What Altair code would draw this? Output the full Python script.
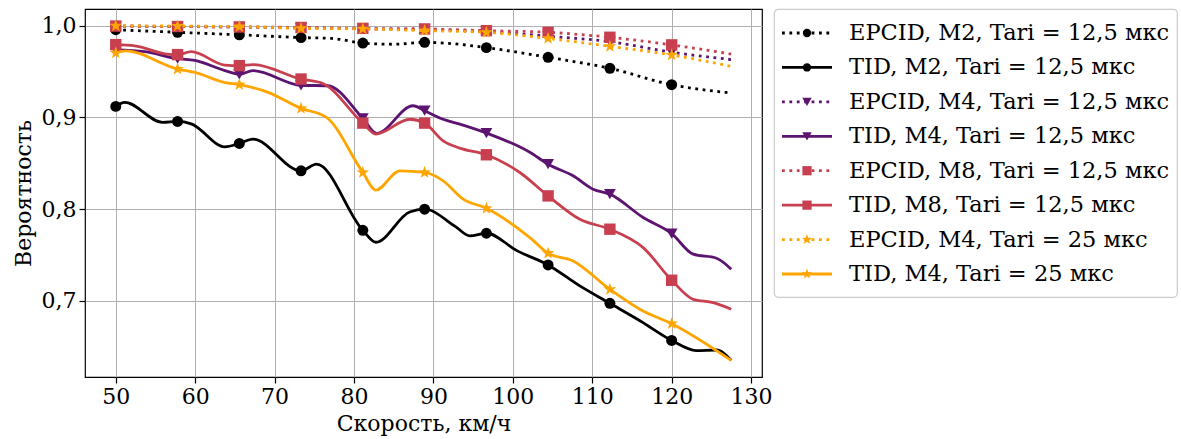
import altair as alt
import pandas as pd

FONT = "DejaVu Serif"

MARKER_X = [50.0, 57.78, 65.56, 73.33, 81.11, 88.89, 96.67, 104.44, 112.22, 120.0]

LABELS = [
    "EPCID, M2, Tari = 12,5 мкс",
    "TID, M2, Tari = 12,5 мкс",
    "EPCID, M4, Tari = 12,5 мкс",
    "TID, M4, Tari = 12,5 мкс",
    "EPCID, M8, Tari = 12,5 мкс",
    "TID, M8, Tari = 12,5 мкс",
    "EPCID, M4, Tari = 25 мкс",
    "TID, M4, Tari = 25 мкс",
]
STAR = ("M0,-1L0.235,-0.324L0.951,-0.309L0.38,0.124L0.588,0.809L0,0.4"
        "L-0.588,0.809L-0.38,0.124L-0.951,-0.309L-0.235,-0.324Z")
COLORS = ["#000000", "#000000", "#5c1470", "#5c1470", "#c8404f", "#c8404f", "#ffa500", "#ffa500"]
SHAPES = ["circle", "circle", "triangle-down", "triangle-down", "square", "square", STAR, STAR]
DOTTED = [True, False, True, False, True, False, True, False]
MSIZE = {"circle": 120, "triangle-down": 140, "square": 130, STAR: 175}
LSIZE = {"circle": 70, "triangle-down": 90, "square": 85, STAR: 120}

X_EPCID_M2 = [50.0, 57.78, 65.56, 73.33, 77.22, 81.11, 85.0, 88.89, 92.78, 96.67, 104.44, 112.22, 120.0, 127.5]
Y_EPCID_M2 = [0.9955, 0.9927, 0.990, 0.987, 0.986, 0.981, 0.9797, 0.9818, 0.980, 0.976, 0.9655, 0.9535, 0.9356, 0.9266]
X_TID_M2 = [50.0, 51.13, 55.9, 57.78, 59.5, 63.73, 65.56, 67.25, 73.33, 75.28, 81.11, 82.75, 87.0, 88.89,
            92.78, 94.58, 96.67, 100.56, 104.44, 108.33, 112.22, 116.11, 120.0, 123.1, 125.65, 127.5]
Y_TID_M2 = [0.912, 0.9163, 0.8945, 0.8956, 0.893, 0.868, 0.8716, 0.8764, 0.8418, 0.849, 0.777, 0.764, 0.797, 0.800,
            0.781, 0.771, 0.7738, 0.7546, 0.7393, 0.717, 0.6975, 0.678, 0.657, 0.646, 0.6466, 0.6353]
X_EPCID_M4 = [50.0, 57.78, 65.56, 73.33, 81.11, 88.89, 96.67, 104.44, 112.22, 120.0, 127.5]
Y_EPCID_M4 = [0.9995, 0.999, 0.9985, 0.9975, 0.9965, 0.9955, 0.9935, 0.9884, 0.9825, 0.971, 0.963]
X_TID_M4 = [50.0, 53.65, 57.78, 59.95, 63.73, 65.56, 67.25, 73.33, 76.7, 81.11, 82.83, 87.44, 88.89, 91.22,
            93.32, 96.67, 102.14, 104.44, 107.59, 110.11, 112.22, 116.41, 120.0, 122.71, 125.65, 127.5]
Y_TID_M4 = [0.9735, 0.9716, 0.964, 0.962, 0.951, 0.947, 0.951, 0.935, 0.9345, 0.899, 0.8826, 0.9127, 0.9073, 0.898,
            0.8927, 0.883, 0.862, 0.849, 0.8364, 0.8218, 0.8164, 0.7909, 0.7734, 0.751, 0.7466, 0.7346]
X_EPCID_M8 = [50.0, 57.78, 65.56, 73.33, 81.11, 88.89, 96.67, 104.44, 112.22, 120.0, 127.5]
Y_EPCID_M8 = [0.9995, 0.999, 0.9985, 0.998, 0.997, 0.9964, 0.9945, 0.9927, 0.9873, 0.979, 0.969]
X_TID_M8 = [50.0, 52.4, 56.4, 57.78, 59.53, 63.73, 65.56, 67.3, 73.33, 76.07, 81.11, 82.75, 87.03, 88.89,
            91.22, 93.32, 96.67, 100.88, 104.44, 108.44, 112.22, 116.41, 120.0, 122.71, 125.23, 127.5]
Y_TID_M8 = [0.9793, 0.978, 0.969, 0.9684, 0.9716, 0.957, 0.9564, 0.9575, 0.9418, 0.937, 0.8938, 0.8818, 0.898, 0.8938,
            0.8745, 0.8665, 0.8593, 0.840, 0.8145, 0.789, 0.7782, 0.7582, 0.7226, 0.7018, 0.6982, 0.691]
X_EPCID_M4_25 = [50.0, 57.78, 65.56, 73.33, 81.11, 88.89, 96.67, 104.44, 112.22, 120.0, 127.5]
Y_EPCID_M4_25 = [0.9998, 0.9995, 0.999, 0.997, 0.9964, 0.9945, 0.9927, 0.986, 0.9774, 0.968, 0.9556]
X_TID_M4_25 = [50.0, 51.2, 57.78, 59.95, 63.73, 65.56, 69.18, 73.33, 76.54, 81.11, 82.75, 85.77, 88.89, 91.22,
               93.74, 96.67, 102.14, 104.44, 107.59, 112.22, 116.41, 120.0, 127.5]
Y_TID_M4_25 = [0.9702, 0.9725, 0.9527, 0.949, 0.938, 0.9357, 0.9273, 0.9098, 0.900, 0.840, 0.8208, 0.8418, 0.840, 0.8309,
               0.811, 0.801, 0.769, 0.752, 0.7437, 0.7127, 0.689, 0.6753, 0.6353]

SERIES_X = [X_EPCID_M2, X_TID_M2, X_EPCID_M4, X_TID_M4, X_EPCID_M8, X_TID_M8, X_EPCID_M4_25, X_TID_M4_25]
SERIES_Y = [Y_EPCID_M2, Y_TID_M2, Y_EPCID_M4, Y_TID_M4, Y_EPCID_M8, Y_TID_M8, Y_EPCID_M4_25, Y_TID_M4_25]

X_TICKS = [50, 60, 70, 80, 90, 100, 110, 120, 130]
Y_TICKS = [0.7, 0.8, 0.9, 1.0]

rows = []
for i, name in enumerate(LABELS):
    for xv, yv in zip(SERIES_X[i], SERIES_Y[i]):
        rows.append({"series": name, "order": i, "sx": xv, "sy": yv,
                     "mk": 1 if any(abs(xv - m) < 0.01 for m in MARKER_X) else 0})
df = pd.DataFrame(rows)

xenc = alt.X("sx:Q", scale=alt.Scale(domain=[46.125, 131.375], nice=False, zero=False),
             axis=alt.Axis(values=X_TICKS, title="Скорость, км/ч"))
yenc = alt.Y("sy:Q", scale=alt.Scale(domain=[0.6172, 1.0181], nice=False, zero=False),
             axis=alt.Axis(values=Y_TICKS, title="Вероятность",
                           labelExpr="replace(format(datum.value, '.1f'), '.', ',')"))

base = alt.Chart(df)
layers = []
for i, name in enumerate(LABELS):
    kw = dict(color=COLORS[i], strokeWidth=2.8, interpolate="monotone")
    if DOTTED[i]:
        kw["strokeDash"] = [2.8, 4.6]
    line = base.transform_filter(alt.datum.order == i).mark_line(**kw).encode(x=xenc, y=yenc)
    pts = base.transform_filter((alt.datum.order == i) & (alt.datum.mk == 1)).mark_point(
        shape=SHAPES[i], filled=True, size=MSIZE[SHAPES[i]], color=COLORS[i], opacity=1
    ).encode(x=xenc, y=yenc)
    layers += [line, pts]

main = alt.layer(*layers).properties(width=677, height=368)

leg_df = pd.DataFrame({"label": LABELS, "idx": list(range(len(LABELS)))})
yl = alt.Y("idx:Q", axis=None, scale=alt.Scale(domain=[-0.697, 7.668], reverse=True, nice=False, zero=False))
col = alt.Color("label:N", sort=LABELS, scale=alt.Scale(domain=LABELS, range=COLORS), legend=None)
dash = alt.StrokeDash("label:N", sort=LABELS, scale=alt.Scale(domain=LABELS,
                      range=[[2.8, 4.6] if d else [1, 0] for d in DOTTED]), legend=None)
shp = alt.Shape("label:N", sort=LABELS, scale=alt.Scale(domain=LABELS, range=SHAPES), legend=None)

lbase = alt.Chart(leg_df)
leg_layers = [
    lbase.mark_rule(strokeWidth=2.8).encode(
        x=alt.value(8), x2=alt.value(58), y=yl, color=col, strokeDash=dash)
]
for s in ["circle", "triangle-down", "square", STAR]:
    idxs = [k for k, sh in enumerate(SHAPES) if sh == s]
    leg_layers.append(
        lbase.transform_filter(alt.FieldOneOfPredicate(field="idx", oneOf=idxs)).mark_point(
            filled=True, opacity=1, size=LSIZE[s]).encode(x=alt.value(33), y=yl, color=col, shape=shp))
leg_layers.append(
    lbase.mark_text(align="left", baseline="middle", font=FONT, fontSize=22.5,
                    color="black").encode(x=alt.value(75), y=yl, text="label:N"))
legend = alt.layer(*leg_layers).properties(
    width=403, height=288,
    view=alt.ViewBackground(stroke="#cccccc", strokeWidth=1.2, cornerRadius=4))

chart = alt.hconcat(main, legend, spacing=0).properties(
    padding={"left": 11, "top": 8, "right": 2, "bottom": 2}
).configure_axis(
    labelFont=FONT, titleFont=FONT, labelFontSize=22, titleFontSize=22, titleFontWeight="normal",
    labelColor="black", titleColor="black", gridColor="#b0b0b0", gridWidth=1, domain=False,
    tickColor="black", tickSize=6, tickWidth=1.2, labelPadding=3, titlePadding=6
).configure_view(stroke="black", strokeWidth=1.2)

chart.save("out.html", embed_options={"renderer": "svg", "actions": False})
